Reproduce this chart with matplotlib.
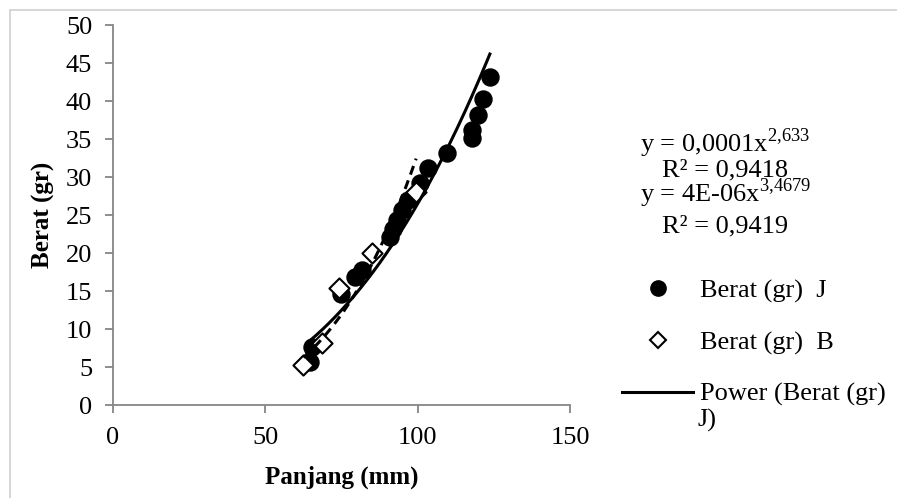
import matplotlib.pyplot as plt
import numpy as np
from matplotlib.lines import Line2D
from matplotlib.patches import Rectangle

plt.rcParams['font.family'] = ['Liberation Serif', 'DejaVu Serif']
plt.rcParams['mathtext.fontset'] = 'custom'
plt.rcParams['mathtext.rm'] = 'Liberation Serif'

# Berat (gr) J
panjang_j = [64.6, 65.3, 74.8, 79.4, 81.7, 91.0, 92.0, 93.2, 94.8, 96.8,
             100.8, 103.4, 109.6, 117.8, 117.8, 119.8, 121.4, 123.7]
berat_j = [5.7, 7.6, 14.6, 16.8, 17.8, 22.1, 23.2, 24.4, 25.7, 27.0,
           29.2, 31.2, 33.2, 35.1, 36.2, 38.2, 40.3, 43.2]

# Berat (gr) B
panjang_b = [62.5, 68.5, 74.2, 85.0, 99.5]
berat_b = [5.3, 8.2, 15.4, 20.0, 28.0]

eq_j = r"y = 0,0001x$^{2{,}633}$"
r2_j = "R² = 0,9418"
eq_b = r"y = 4E-06x$^{3{,}4679}$"
r2_b = "R² = 0,9419"

axis_gray = '#868686'


def power_fit(x, y):
    # same as an Excel power trendline: linear fit in log-log space
    b, ln_a = np.polyfit(np.log(x), np.log(y), 1)
    xs = np.linspace(min(x), max(x), 200)
    return xs, np.exp(ln_a) * xs ** b


fig = plt.figure(figsize=(8.97, 4.98), dpi=100)
ax = fig.add_axes([113 / 897, 93 / 498, 457 / 897, 380 / 498])

ax.scatter(panjang_j, berat_j, s=150, color='black', marker='o', zorder=3)
ax.scatter(panjang_b, berat_b, s=105, facecolor='white', edgecolor='black',
           marker='D', linewidths=1.5, zorder=4)

xs, ys = power_fit(panjang_j, berat_j)
ax.plot(xs, ys, color='black', lw=2.2, zorder=5)
xs, ys = power_fit(panjang_b, berat_b)
ax.plot(xs, ys, color='black', lw=2.2, ls=(0, (3, 2)), zorder=5)

ax.set_xlim(0, 150)
ax.set_ylim(0, 50)
ax.set_xticks([0, 50, 100, 150])
ax.set_yticks(np.arange(0, 51, 5))
for s in ['top', 'right']:
    ax.spines[s].set_visible(False)
for s in ['left', 'bottom']:
    ax.spines[s].set_color(axis_gray)
    ax.spines[s].set_linewidth(1.3)
ax.tick_params(colors=axis_gray, labelcolor='black', labelsize=19,
               length=6, width=1.3, direction='out')
ax.tick_params(axis='x', pad=10)
ax.tick_params(axis='y', pad=9)

ax.set_xlabel('Panjang (mm)', fontsize=18, fontweight='bold', labelpad=12)
ax.set_ylabel('Berat (gr)', fontsize=18, fontweight='bold', labelpad=8)

# trendline equations
fig.text(640 / 897, 1 - 143 / 498, eq_j, fontsize=19, va='center')
fig.text(662 / 897, 1 - 170 / 498, r2_j, fontsize=19, va='center')
fig.text(640 / 897, 1 - 193 / 498, eq_b, fontsize=19, va='center')
fig.text(662 / 897, 1 - 226 / 498, r2_b, fontsize=19, va='center')

handles = [
    Line2D([], [], color='black', marker='o', ls='none', markersize=11),
    Line2D([], [], markerfacecolor='white', markeredgecolor='black',
           marker='D', ls='none', markersize=8, markeredgewidth=1.5),
    Line2D([], [], color='black', lw=2.2),
]
labels = ['Berat (gr)  J', 'Berat (gr)  B', 'Power (Berat (gr)']
fig.legend(handles, labels, loc='upper left',
           bbox_to_anchor=(609 / 897, 1 - 266 / 498), frameon=False,
           fontsize=19, handlelength=2.7, handletextpad=0.25,
           labelspacing=1.05, borderpad=0)
fig.text(698 / 897, 1 - 420 / 498, 'J)', fontsize=19, va='center')

fig.patches.append(Rectangle((10 / 897, -0.1), 1.2, 1.1 - 10 / 498,
                             transform=fig.transFigure, fill=False,
                             edgecolor='#d0d0d0', lw=1.2))

fig.savefig('out.png', dpi=100)
